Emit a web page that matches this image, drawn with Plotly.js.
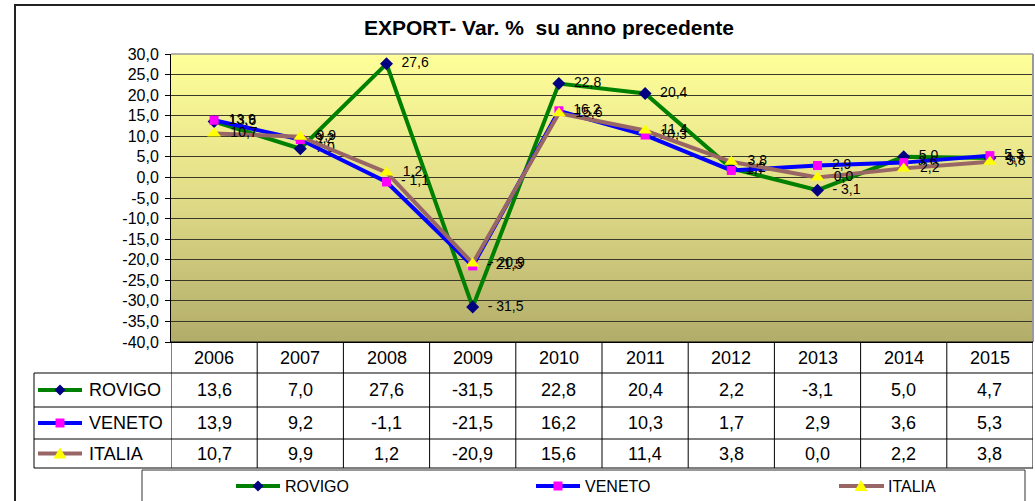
<!DOCTYPE html>
<html><head><meta charset="utf-8">
<script src="https://cdn.plot.ly/plotly-3.0.1.min.js"></script>
<style>html,body{margin:0;padding:0;background:#fff;}#chart{width:1035px;height:501px;}</style>
</head><body><div id="chart"></div>
<script>
// ---- data ----
const years = ['2006','2007','2008','2009','2010','2011','2012','2013','2014','2015'];
const seriesNames = ['ROVIGO','VENETO','ITALIA'];
const rovigo = [13.6, 7.0, 27.6, -31.5, 22.8, 20.4, 2.2, -3.1, 5.0, 4.7];
const veneto = [13.9, 9.2, -1.1, -21.5, 16.2, 10.3, 1.7, 2.9, 3.6, 5.3];
const italia = [10.7, 9.9, 1.2, -20.9, 15.6, 11.4, 3.8, 0.0, 2.2, 3.8];
const yTickVals = [-40,-35,-30,-25,-20,-15,-10,-5,0,5,10,15,20,25,30];
const titleText = 'EXPORT- Var. %\u00a0 su anno precedente';

// ---- styles ----
const FONT = 'Liberation Sans, Arial, sans-serif';
const W = 1035, H = 501, L = 171, R = 2, T = 54, B = 159;
const PW = W - L - R, PH = H - T - B;
const px = x => (x - L) / PW;
const py = y => (H - B - y) / PH;

const styles = [
  {line: '#008000', marker: '#000080', symbol: 'diamond', msize: 10,
   path: 'M0,5.5 L5.5,0 L0,-5.5 L-5.5,0 Z'},
  {line: '#0000FF', marker: '#FF00FF', symbol: 'square', msize: 9,
   path: 'M-4.5,-4.5 L4.5,-4.5 L4.5,4.5 L-4.5,4.5 Z'},
  {line: '#996666', marker: '#FFFF00', symbol: 'triangle-up', msize: 12,
   path: 'M0,6 L6.5,-5 L-6.5,-5 Z'}
];
const seriesData = [rovigo, veneto, italia];

const fmt = v => v.toFixed(1).replace('.', ',');
const fmtLabel = v => '\u00a0\u00a0' + (v < 0 ? '- ' + fmt(-v) : fmt(v));

const traces = seriesData.map((d, j) => ({
  type: 'scatter', mode: 'lines+markers+text',
  x: years.map((_, i) => i), y: d,
  text: d.map(fmtLabel), textposition: 'middle right',
  textfont: {family: FONT, size: 14, color: '#000'},
  line: {color: styles[j].line, width: 4},
  marker: {symbol: styles[j].symbol, size: styles[j].msize, color: styles[j].marker,
           line: {width: 0}},
  cliponaxis: false, showlegend: false, hoverinfo: 'skip', name: seriesNames[j]
}));

const shapes = [];
const annotations = [];

// plot area top & right borders
shapes.push({type: 'line', xref: 'paper', yref: 'paper', x0: 0, x1: 1, y0: 1, y1: 1,
  line: {color: '#9a9a9a', width: 1.5}});
shapes.push({type: 'line', xref: 'paper', yref: 'paper', x0: 1, x1: 1, y0: 0, y1: 1,
  line: {color: '#9a9a9a', width: 2}});

// outer chart border
shapes.push({type: 'rect', xref: 'paper', yref: 'paper', x0: px(15), x1: px(1045), y0: py(5), y1: py(520),
  line: {color: '#222', width: 2}, layer: 'below'});

// data table
const rowTop = [342, 373, 407, 439, 468];
const rowCenter = [357.5, 390, 423, 453.5];
shapes.push({type: 'line', xref: 'paper', yref: 'paper', x0: 0, x1: 1, y0: py(342), y1: py(342), line: {color: '#000', width: 1}});
for (let k = 1; k < rowTop.length; k++) {
  shapes.push({type: 'line', xref: 'paper', yref: 'paper', x0: px(34), x1: 1, y0: py(rowTop[k]), y1: py(rowTop[k]),
    line: {color: '#000', width: 1}});
}
for (let i = 0; i <= years.length; i++) {
  shapes.push({type: 'line', xref: 'x', yref: 'paper', x0: i - 0.5, x1: i - 0.5, y0: py(342), y1: py(468),
    line: {color: '#000', width: 1}});
}
shapes.push({type: 'line', xref: 'paper', yref: 'paper', x0: px(34), x1: px(34), y0: py(373), y1: py(468),
  line: {color: '#000', width: 1}});

const cellFont = {family: FONT, size: 18, color: '#000'};
years.forEach((yr, i) => {
  annotations.push({x: i, xref: 'x', y: py(rowCenter[0]), yref: 'paper', text: yr, showarrow: false,
    font: cellFont, xanchor: 'center', yanchor: 'middle'});
  seriesData.forEach((d, j) => {
    annotations.push({x: i, xref: 'x', y: py(rowCenter[j + 1]), yref: 'paper', text: fmt(d[i]), showarrow: false,
      font: cellFont, xanchor: 'center', yanchor: 'middle'});
  });
});

function key(x0, x1, xm, yc, j) {
  shapes.push({type: 'line', xref: 'paper', yref: 'paper', x0: px(x0), x1: px(x1), y0: py(yc), y1: py(yc),
    line: {color: styles[j].line, width: 4}});
  shapes.push({type: 'path', xref: 'paper', yref: 'paper', xsizemode: 'pixel', ysizemode: 'pixel',
    xanchor: px(xm), yanchor: py(yc), path: styles[j].path,
    fillcolor: styles[j].marker, line: {width: 0}});
}

seriesNames.forEach((nm, j) => {
  const yc = rowCenter[j + 1];
  key(38, 82, 60, yc, j);
  annotations.push({x: px(87), xref: 'paper', y: py(yc), yref: 'paper', text: nm, showarrow: false,
    font: cellFont, xanchor: 'left', yanchor: 'middle'});
});

// bottom legend
shapes.push({type: 'rect', xref: 'paper', yref: 'paper', x0: px(142), x1: px(1025), y0: py(470), y1: py(530),
  line: {color: '#333', width: 1}});
const legendPos = [[236, 280, 258, 283], [536, 580, 558, 583], [839, 884, 861, 886]];
seriesNames.forEach((nm, j) => {
  const p = legendPos[j];
  key(p[0], p[1], p[2], 486, j);
  annotations.push({x: px(p[3]), xref: 'paper', y: py(486), yref: 'paper', text: nm, showarrow: false,
    font: {family: FONT, size: 16, color: '#000'}, xanchor: 'left', yanchor: 'middle'});
});

const gradSvg = '<svg xmlns="http://www.w3.org/2000/svg" width="100" height="100" preserveAspectRatio="none">' +
  '<defs><linearGradient id="g" x1="0" y1="0" x2="0" y2="1">' +
  '<stop offset="0" stop-color="#FFFF99"/><stop offset="0.45" stop-color="#E4E08A"/><stop offset="1" stop-color="#B2AC6A"/>' +
  '</linearGradient></defs><rect width="100" height="100" fill="url(#g)"/></svg>';

const layout = {
  width: W, height: H,
  margin: {l: L, r: R, t: T, b: B, pad: 0},
  paper_bgcolor: '#fff', plot_bgcolor: 'rgba(0,0,0,0)',
  font: {family: FONT, color: '#000'},
  title: {text: '<b>' + titleText + '</b>', font: {family: FONT, size: 21, color: '#000'},
    x: 549 / W, xref: 'container', xanchor: 'center', y: 1 - 28 / H, yref: 'container', yanchor: 'middle'},
  xaxis: {range: [-0.5, 9.5], showticklabels: false, showgrid: false, zeroline: false,
    showline: true, linecolor: '#000', linewidth: 1, ticks: '', fixedrange: true},
  yaxis: {range: [-40, 30], tickvals: yTickVals, ticktext: yTickVals.map(fmt),
    showgrid: true, gridcolor: '#3a3a2a', gridwidth: 1, zeroline: false,
    showline: true, linecolor: '#000', linewidth: 1, ticks: 'outside', ticklen: 5, tickcolor: '#000',
    tickfont: {family: FONT, size: 16, color: '#000'}, ticklabelstandoff: 3, fixedrange: true},
  images: [{source: 'data:image/svg+xml;charset=utf-8,' + encodeURIComponent(gradSvg),
    xref: 'x', yref: 'y', x: -0.5, y: 30, sizex: 10, sizey: 70, sizing: 'stretch',
    xanchor: 'left', yanchor: 'top', layer: 'below'}],
  shapes: shapes, annotations: annotations, showlegend: false, hovermode: false
};

Plotly.newPlot('chart', traces, layout, {staticPlot: true, displayModeBar: false});
</script></body></html>
